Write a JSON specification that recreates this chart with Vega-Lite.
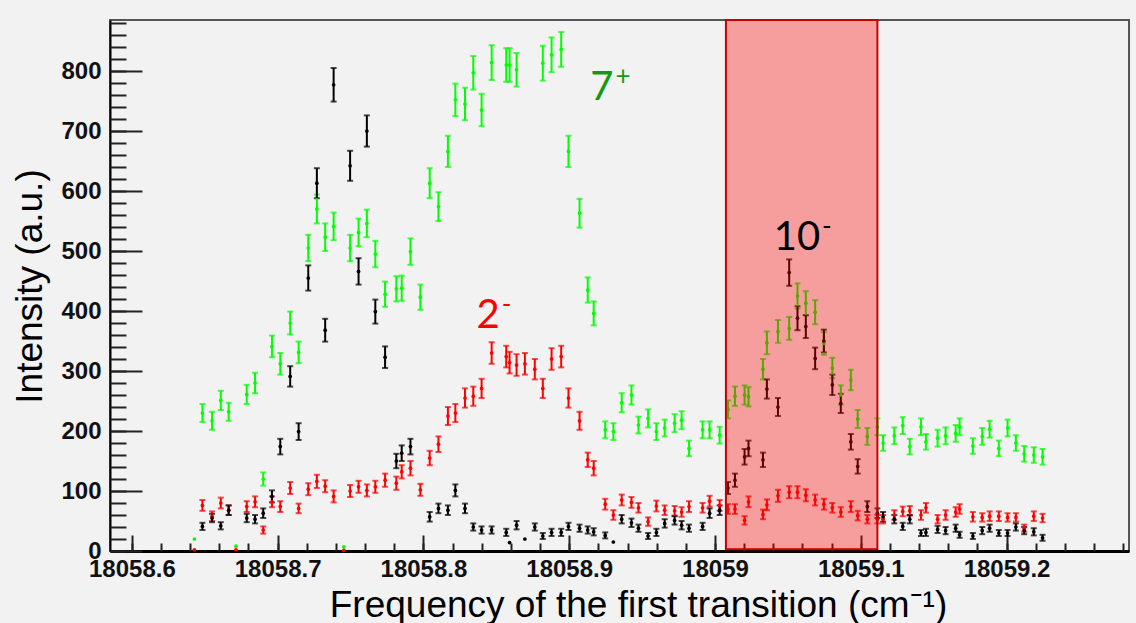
{
  "$schema": "https://vega.github.io/schema/vega-lite/v6.json",
  "width": 1019,
  "height": 531,
  "autosize": {"type": "none"},
  "padding": {"left": 110, "top": 20, "right": 7, "bottom": 72},
  "background": "#f2f2f2",
  "config": {
    "view": {"stroke": "#555555", "strokeWidth": 2},
    "font": "Liberation Sans"
  },
  "datasets": {
    "pts": [
      {"f": 18058.6429, "s": "7+", "y": 20, "e": 0},
      {"f": 18058.6484, "s": "7+", "y": 230, "e": 15},
      {"f": 18058.6550, "s": "7+", "y": 217, "e": 15},
      {"f": 18058.6610, "s": "7+", "y": 251, "e": 16},
      {"f": 18058.6664, "s": "7+", "y": 232, "e": 15},
      {"f": 18058.6714, "s": "7+", "y": 8, "e": 0},
      {"f": 18058.6788, "s": "7+", "y": 261, "e": 16},
      {"f": 18058.6845, "s": "7+", "y": 280, "e": 17},
      {"f": 18058.6901, "s": "7+", "y": 120, "e": 11},
      {"f": 18058.6961, "s": "7+", "y": 341, "e": 18},
      {"f": 18058.7018, "s": "7+", "y": 312, "e": 18},
      {"f": 18058.7086, "s": "7+", "y": 380, "e": 19},
      {"f": 18058.7144, "s": "7+", "y": 331, "e": 18},
      {"f": 18058.7210, "s": "7+", "y": 505, "e": 22},
      {"f": 18058.7269, "s": "7+", "y": 570, "e": 24},
      {"f": 18058.7326, "s": "7+", "y": 523, "e": 23},
      {"f": 18058.7384, "s": "7+", "y": 541, "e": 23},
      {"f": 18058.7454, "s": "7+", "y": 7, "e": 0},
      {"f": 18058.7497, "s": "7+", "y": 505, "e": 22},
      {"f": 18058.7555, "s": "7+", "y": 531, "e": 23},
      {"f": 18058.7612, "s": "7+", "y": 546, "e": 23},
      {"f": 18058.7670, "s": "7+", "y": 495, "e": 22},
      {"f": 18058.7737, "s": "7+", "y": 428, "e": 21},
      {"f": 18058.7814, "s": "7+", "y": 437, "e": 21},
      {"f": 18058.7851, "s": "7+", "y": 438, "e": 21},
      {"f": 18058.7911, "s": "7+", "y": 499, "e": 22},
      {"f": 18058.7979, "s": "7+", "y": 423, "e": 21},
      {"f": 18058.8043, "s": "7+", "y": 613, "e": 25},
      {"f": 18058.8103, "s": "7+", "y": 574, "e": 24},
      {"f": 18058.8168, "s": "7+", "y": 666, "e": 26},
      {"f": 18058.8219, "s": "7+", "y": 752, "e": 27},
      {"f": 18058.8285, "s": "7+", "y": 745, "e": 27},
      {"f": 18058.8342, "s": "7+", "y": 797, "e": 28},
      {"f": 18058.8399, "s": "7+", "y": 735, "e": 27},
      {"f": 18058.8468, "s": "7+", "y": 814, "e": 29},
      {"f": 18058.8568, "s": "7+", "y": 810, "e": 28},
      {"f": 18058.8591, "s": "7+", "y": 810, "e": 28},
      {"f": 18058.8639, "s": "7+", "y": 802, "e": 28},
      {"f": 18058.8819, "s": "7+", "y": 813, "e": 29},
      {"f": 18058.8879, "s": "7+", "y": 827, "e": 29},
      {"f": 18058.8945, "s": "7+", "y": 836, "e": 29},
      {"f": 18058.8995, "s": "7+", "y": 666, "e": 26},
      {"f": 18058.9071, "s": "7+", "y": 563, "e": 24},
      {"f": 18058.9127, "s": "7+", "y": 435, "e": 21},
      {"f": 18058.9168, "s": "7+", "y": 396, "e": 20},
      {"f": 18058.9247, "s": "7+", "y": 202, "e": 14},
      {"f": 18058.9303, "s": "7+", "y": 199, "e": 14},
      {"f": 18058.9360, "s": "7+", "y": 247, "e": 16},
      {"f": 18058.9427, "s": "7+", "y": 260, "e": 16},
      {"f": 18058.9475, "s": "7+", "y": 210, "e": 14},
      {"f": 18058.9541, "s": "7+", "y": 221, "e": 15},
      {"f": 18058.9598, "s": "7+", "y": 199, "e": 14},
      {"f": 18058.9655, "s": "7+", "y": 205, "e": 14},
      {"f": 18058.9723, "s": "7+", "y": 213, "e": 15},
      {"f": 18058.9771, "s": "7+", "y": 218, "e": 15},
      {"f": 18058.9822, "s": "7+", "y": 171, "e": 13},
      {"f": 18058.9915, "s": "7+", "y": 202, "e": 14},
      {"f": 18058.9963, "s": "7+", "y": 202, "e": 14},
      {"f": 18059.0032, "s": "7+", "y": 193, "e": 14},
      {"f": 18059.0089, "s": "7+", "y": 236, "e": 15},
      {"f": 18059.0137, "s": "7+", "y": 258, "e": 16},
      {"f": 18059.0203, "s": "7+", "y": 260, "e": 16},
      {"f": 18059.0230, "s": "7+", "y": 257, "e": 16},
      {"f": 18059.0329, "s": "7+", "y": 303, "e": 17},
      {"f": 18059.0356, "s": "7+", "y": 347, "e": 19},
      {"f": 18059.0432, "s": "7+", "y": 366, "e": 19},
      {"f": 18059.0509, "s": "7+", "y": 371, "e": 19},
      {"f": 18059.0566, "s": "7+", "y": 425, "e": 21},
      {"f": 18059.0623, "s": "7+", "y": 413, "e": 20},
      {"f": 18059.0687, "s": "7+", "y": 398, "e": 20},
      {"f": 18059.0747, "s": "7+", "y": 346, "e": 19},
      {"f": 18059.0805, "s": "7+", "y": 305, "e": 17},
      {"f": 18059.0863, "s": "7+", "y": 260, "e": 16},
      {"f": 18059.0932, "s": "7+", "y": 285, "e": 17},
      {"f": 18059.0979, "s": "7+", "y": 220, "e": 15},
      {"f": 18059.1045, "s": "7+", "y": 191, "e": 14},
      {"f": 18059.1114, "s": "7+", "y": 207, "e": 14},
      {"f": 18059.1153, "s": "7+", "y": 180, "e": 13},
      {"f": 18059.1230, "s": "7+", "y": 192, "e": 14},
      {"f": 18059.1288, "s": "7+", "y": 209, "e": 14},
      {"f": 18059.1336, "s": "7+", "y": 174, "e": 13},
      {"f": 18059.1413, "s": "7+", "y": 207, "e": 14},
      {"f": 18059.1447, "s": "7+", "y": 182, "e": 13},
      {"f": 18059.1527, "s": "7+", "y": 188, "e": 14},
      {"f": 18059.1582, "s": "7+", "y": 192, "e": 14},
      {"f": 18059.1651, "s": "7+", "y": 196, "e": 14},
      {"f": 18059.1678, "s": "7+", "y": 207, "e": 14},
      {"f": 18059.1769, "s": "7+", "y": 175, "e": 13},
      {"f": 18059.1833, "s": "7+", "y": 191, "e": 14},
      {"f": 18059.1884, "s": "7+", "y": 203, "e": 14},
      {"f": 18059.1947, "s": "7+", "y": 171, "e": 13},
      {"f": 18059.2007, "s": "7+", "y": 205, "e": 14},
      {"f": 18059.2064, "s": "7+", "y": 180, "e": 13},
      {"f": 18059.2121, "s": "7+", "y": 162, "e": 13},
      {"f": 18059.2187, "s": "7+", "y": 160, "e": 13},
      {"f": 18059.2247, "s": "7+", "y": 157, "e": 13},

      {"f": 18058.6429, "s": "2-", "y": 2, "e": 0},
      {"f": 18058.6484, "s": "2-", "y": 76, "e": 9},
      {"f": 18058.6550, "s": "2-", "y": 58, "e": 8},
      {"f": 18058.6610, "s": "2-", "y": 80, "e": 9},
      {"f": 18058.6664, "s": "2-", "y": 68, "e": 8},
      {"f": 18058.6714, "s": "2-", "y": 2, "e": 0},
      {"f": 18058.6788, "s": "2-", "y": 74, "e": 9},
      {"f": 18058.6845, "s": "2-", "y": 82, "e": 9},
      {"f": 18058.6901, "s": "2-", "y": 35, "e": 6},
      {"f": 18058.6961, "s": "2-", "y": 82, "e": 9},
      {"f": 18058.7018, "s": "2-", "y": 74, "e": 9},
      {"f": 18058.7086, "s": "2-", "y": 105, "e": 10},
      {"f": 18058.7144, "s": "2-", "y": 71, "e": 8},
      {"f": 18058.7210, "s": "2-", "y": 103, "e": 10},
      {"f": 18058.7269, "s": "2-", "y": 116, "e": 11},
      {"f": 18058.7326, "s": "2-", "y": 108, "e": 10},
      {"f": 18058.7384, "s": "2-", "y": 91, "e": 10},
      {"f": 18058.7454, "s": "2-", "y": 1, "e": 0},
      {"f": 18058.7497, "s": "2-", "y": 100, "e": 10},
      {"f": 18058.7555, "s": "2-", "y": 107, "e": 10},
      {"f": 18058.7612, "s": "2-", "y": 101, "e": 10},
      {"f": 18058.7670, "s": "2-", "y": 107, "e": 10},
      {"f": 18058.7737, "s": "2-", "y": 118, "e": 11},
      {"f": 18058.7814, "s": "2-", "y": 113, "e": 11},
      {"f": 18058.7851, "s": "2-", "y": 132, "e": 11},
      {"f": 18058.7911, "s": "2-", "y": 138, "e": 12},
      {"f": 18058.7979, "s": "2-", "y": 102, "e": 10},
      {"f": 18058.8043, "s": "2-", "y": 155, "e": 12},
      {"f": 18058.8103, "s": "2-", "y": 178, "e": 13},
      {"f": 18058.8168, "s": "2-", "y": 225, "e": 15},
      {"f": 18058.8219, "s": "2-", "y": 230, "e": 15},
      {"f": 18058.8285, "s": "2-", "y": 255, "e": 16},
      {"f": 18058.8342, "s": "2-", "y": 258, "e": 16},
      {"f": 18058.8399, "s": "2-", "y": 271, "e": 16},
      {"f": 18058.8468, "s": "2-", "y": 330, "e": 18},
      {"f": 18058.8568, "s": "2-", "y": 324, "e": 18},
      {"f": 18058.8591, "s": "2-", "y": 314, "e": 18},
      {"f": 18058.8639, "s": "2-", "y": 310, "e": 18},
      {"f": 18058.8696, "s": "2-", "y": 312, "e": 18},
      {"f": 18058.8764, "s": "2-", "y": 303, "e": 17},
      {"f": 18058.8819, "s": "2-", "y": 271, "e": 16},
      {"f": 18058.8879, "s": "2-", "y": 320, "e": 18},
      {"f": 18058.8945, "s": "2-", "y": 324, "e": 18},
      {"f": 18058.8995, "s": "2-", "y": 255, "e": 16},
      {"f": 18058.9071, "s": "2-", "y": 217, "e": 15},
      {"f": 18058.9127, "s": "2-", "y": 152, "e": 12},
      {"f": 18058.9168, "s": "2-", "y": 138, "e": 12},
      {"f": 18058.9247, "s": "2-", "y": 78, "e": 9},
      {"f": 18058.9303, "s": "2-", "y": 60, "e": 8},
      {"f": 18058.9360, "s": "2-", "y": 85, "e": 9},
      {"f": 18058.9427, "s": "2-", "y": 81, "e": 9},
      {"f": 18058.9475, "s": "2-", "y": 72, "e": 8},
      {"f": 18058.9541, "s": "2-", "y": 49, "e": 7},
      {"f": 18058.9598, "s": "2-", "y": 75, "e": 9},
      {"f": 18058.9655, "s": "2-", "y": 68, "e": 8},
      {"f": 18058.9723, "s": "2-", "y": 67, "e": 8},
      {"f": 18058.9771, "s": "2-", "y": 65, "e": 8},
      {"f": 18058.9822, "s": "2-", "y": 74, "e": 9},
      {"f": 18058.9915, "s": "2-", "y": 72, "e": 8},
      {"f": 18058.9963, "s": "2-", "y": 83, "e": 9},
      {"f": 18059.0032, "s": "2-", "y": 76, "e": 9},
      {"f": 18059.0089, "s": "2-", "y": 70, "e": 8},
      {"f": 18059.0137, "s": "2-", "y": 70, "e": 8},
      {"f": 18059.0203, "s": "2-", "y": 51, "e": 7},
      {"f": 18059.0230, "s": "2-", "y": 82, "e": 9},
      {"f": 18059.0329, "s": "2-", "y": 61, "e": 8},
      {"f": 18059.0356, "s": "2-", "y": 77, "e": 9},
      {"f": 18059.0432, "s": "2-", "y": 92, "e": 10},
      {"f": 18059.0509, "s": "2-", "y": 98, "e": 10},
      {"f": 18059.0566, "s": "2-", "y": 98, "e": 10},
      {"f": 18059.0623, "s": "2-", "y": 93, "e": 10},
      {"f": 18059.0687, "s": "2-", "y": 85, "e": 9},
      {"f": 18059.0747, "s": "2-", "y": 78, "e": 9},
      {"f": 18059.0805, "s": "2-", "y": 72, "e": 8},
      {"f": 18059.0863, "s": "2-", "y": 65, "e": 8},
      {"f": 18059.0932, "s": "2-", "y": 74, "e": 9},
      {"f": 18059.0979, "s": "2-", "y": 59, "e": 8},
      {"f": 18059.1045, "s": "2-", "y": 53, "e": 7},
      {"f": 18059.1114, "s": "2-", "y": 53, "e": 7},
      {"f": 18059.1153, "s": "2-", "y": 53, "e": 7},
      {"f": 18059.1230, "s": "2-", "y": 60, "e": 8},
      {"f": 18059.1288, "s": "2-", "y": 66, "e": 8},
      {"f": 18059.1336, "s": "2-", "y": 67, "e": 8},
      {"f": 18059.1413, "s": "2-", "y": 60, "e": 8},
      {"f": 18059.1447, "s": "2-", "y": 72, "e": 8},
      {"f": 18059.1527, "s": "2-", "y": 53, "e": 7},
      {"f": 18059.1582, "s": "2-", "y": 60, "e": 8},
      {"f": 18059.1651, "s": "2-", "y": 65, "e": 8},
      {"f": 18059.1678, "s": "2-", "y": 70, "e": 8},
      {"f": 18059.1769, "s": "2-", "y": 57, "e": 8},
      {"f": 18059.1833, "s": "2-", "y": 56, "e": 7},
      {"f": 18059.1884, "s": "2-", "y": 58, "e": 8},
      {"f": 18059.1947, "s": "2-", "y": 58, "e": 8},
      {"f": 18059.2007, "s": "2-", "y": 56, "e": 7},
      {"f": 18059.2064, "s": "2-", "y": 56, "e": 7},
      {"f": 18059.2121, "s": "2-", "y": 38, "e": 6},
      {"f": 18059.2187, "s": "2-", "y": 58, "e": 8},
      {"f": 18059.2247, "s": "2-", "y": 55, "e": 7},

      {"f": 18058.6484, "s": "10-", "y": 41, "e": 6},
      {"f": 18058.6550, "s": "10-", "y": 55, "e": 7},
      {"f": 18058.6610, "s": "10-", "y": 42, "e": 6},
      {"f": 18058.6664, "s": "10-", "y": 68, "e": 8},
      {"f": 18058.6788, "s": "10-", "y": 55, "e": 7},
      {"f": 18058.6845, "s": "10-", "y": 53, "e": 7},
      {"f": 18058.6901, "s": "10-", "y": 63, "e": 8},
      {"f": 18058.6961, "s": "10-", "y": 91, "e": 10},
      {"f": 18058.7018, "s": "10-", "y": 174, "e": 13},
      {"f": 18058.7086, "s": "10-", "y": 291, "e": 17},
      {"f": 18058.7144, "s": "10-", "y": 199, "e": 14},
      {"f": 18058.7210, "s": "10-", "y": 455, "e": 21},
      {"f": 18058.7269, "s": "10-", "y": 613, "e": 25},
      {"f": 18058.7326, "s": "10-", "y": 368, "e": 19},
      {"f": 18058.7384, "s": "10-", "y": 777, "e": 28},
      {"f": 18058.7497, "s": "10-", "y": 642, "e": 25},
      {"f": 18058.7555, "s": "10-", "y": 466, "e": 22},
      {"f": 18058.7612, "s": "10-", "y": 700, "e": 26},
      {"f": 18058.7670, "s": "10-", "y": 399, "e": 20},
      {"f": 18058.7737, "s": "10-", "y": 323, "e": 18},
      {"f": 18058.7814, "s": "10-", "y": 150, "e": 12},
      {"f": 18058.7851, "s": "10-", "y": 163, "e": 13},
      {"f": 18058.7911, "s": "10-", "y": 174, "e": 13},
      {"f": 18058.8043, "s": "10-", "y": 57, "e": 8},
      {"f": 18058.8103, "s": "10-", "y": 71, "e": 8},
      {"f": 18058.8168, "s": "10-", "y": 68, "e": 8},
      {"f": 18058.8219, "s": "10-", "y": 101, "e": 10},
      {"f": 18058.8285, "s": "10-", "y": 71, "e": 8},
      {"f": 18058.8342, "s": "10-", "y": 40, "e": 6},
      {"f": 18058.8399, "s": "10-", "y": 35, "e": 6},
      {"f": 18058.8468, "s": "10-", "y": 35, "e": 6},
      {"f": 18058.8568, "s": "10-", "y": 31, "e": 6},
      {"f": 18058.8591, "s": "10-", "y": 14, "e": 0},
      {"f": 18058.8639, "s": "10-", "y": 43, "e": 7},
      {"f": 18058.8696, "s": "10-", "y": 20, "e": 0},
      {"f": 18058.8764, "s": "10-", "y": 40, "e": 6},
      {"f": 18058.8819, "s": "10-", "y": 25, "e": 5},
      {"f": 18058.8879, "s": "10-", "y": 31, "e": 6},
      {"f": 18058.8945, "s": "10-", "y": 31, "e": 6},
      {"f": 18058.8995, "s": "10-", "y": 41, "e": 6},
      {"f": 18058.9071, "s": "10-", "y": 38, "e": 6},
      {"f": 18058.9127, "s": "10-", "y": 35, "e": 6},
      {"f": 18058.9168, "s": "10-", "y": 32, "e": 6},
      {"f": 18058.9247, "s": "10-", "y": 26, "e": 5},
      {"f": 18058.9303, "s": "10-", "y": 15, "e": 0},
      {"f": 18058.9360, "s": "10-", "y": 53, "e": 7},
      {"f": 18058.9427, "s": "10-", "y": 47, "e": 7},
      {"f": 18058.9475, "s": "10-", "y": 38, "e": 6},
      {"f": 18058.9541, "s": "10-", "y": 25, "e": 5},
      {"f": 18058.9598, "s": "10-", "y": 31, "e": 6},
      {"f": 18058.9655, "s": "10-", "y": 46, "e": 7},
      {"f": 18058.9723, "s": "10-", "y": 51, "e": 7},
      {"f": 18058.9771, "s": "10-", "y": 43, "e": 7},
      {"f": 18058.9822, "s": "10-", "y": 38, "e": 6},
      {"f": 18058.9915, "s": "10-", "y": 41, "e": 6},
      {"f": 18058.9963, "s": "10-", "y": 63, "e": 8},
      {"f": 18059.0032, "s": "10-", "y": 68, "e": 8},
      {"f": 18059.0089, "s": "10-", "y": 105, "e": 10},
      {"f": 18059.0137, "s": "10-", "y": 118, "e": 11},
      {"f": 18059.0203, "s": "10-", "y": 157, "e": 13},
      {"f": 18059.0230, "s": "10-", "y": 171, "e": 13},
      {"f": 18059.0329, "s": "10-", "y": 152, "e": 12},
      {"f": 18059.0356, "s": "10-", "y": 270, "e": 16},
      {"f": 18059.0432, "s": "10-", "y": 240, "e": 15},
      {"f": 18059.0509, "s": "10-", "y": 464, "e": 22},
      {"f": 18059.0566, "s": "10-", "y": 388, "e": 20},
      {"f": 18059.0623, "s": "10-", "y": 374, "e": 19},
      {"f": 18059.0687, "s": "10-", "y": 321, "e": 18},
      {"f": 18059.0747, "s": "10-", "y": 350, "e": 19},
      {"f": 18059.0805, "s": "10-", "y": 277, "e": 17},
      {"f": 18059.0863, "s": "10-", "y": 246, "e": 16},
      {"f": 18059.0932, "s": "10-", "y": 182, "e": 13},
      {"f": 18059.0979, "s": "10-", "y": 141, "e": 12},
      {"f": 18059.1045, "s": "10-", "y": 74, "e": 9},
      {"f": 18059.1114, "s": "10-", "y": 63, "e": 8},
      {"f": 18059.1153, "s": "10-", "y": 57, "e": 8},
      {"f": 18059.1230, "s": "10-", "y": 53, "e": 7},
      {"f": 18059.1288, "s": "10-", "y": 41, "e": 6},
      {"f": 18059.1336, "s": "10-", "y": 53, "e": 7},
      {"f": 18059.1413, "s": "10-", "y": 30, "e": 5},
      {"f": 18059.1447, "s": "10-", "y": 31, "e": 6},
      {"f": 18059.1527, "s": "10-", "y": 36, "e": 6},
      {"f": 18059.1582, "s": "10-", "y": 34, "e": 6},
      {"f": 18059.1651, "s": "10-", "y": 38, "e": 6},
      {"f": 18059.1678, "s": "10-", "y": 27, "e": 5},
      {"f": 18059.1769, "s": "10-", "y": 25, "e": 5},
      {"f": 18059.1833, "s": "10-", "y": 34, "e": 6},
      {"f": 18059.1884, "s": "10-", "y": 38, "e": 6},
      {"f": 18059.1947, "s": "10-", "y": 30, "e": 5},
      {"f": 18059.2007, "s": "10-", "y": 30, "e": 5},
      {"f": 18059.2064, "s": "10-", "y": 40, "e": 6},
      {"f": 18059.2121, "s": "10-", "y": 34, "e": 6},
      {"f": 18059.2187, "s": "10-", "y": 32, "e": 6},
      {"f": 18059.2247, "s": "10-", "y": 22, "e": 5}
    ],
    "window": [
      {"f0": 18059.0075, "f1": 18059.1114, "y0": 3, "y1": 885}
    ],
    "labels": [
      {"f": 18058.9303, "y": 752, "main": "7", "sup": "+", "s": "7+"},
      {"f": 18058.8523, "y": 372, "main": "2", "sup": "-", "s": "2-"},
      {"f": 18059.0721, "y": 502, "main": "10", "sup": "-", "s": "10-"}
    ]
  },
  "resolve": {
    "scale": {"color": "independent"},
    "axis": {"x": "independent", "y": "independent"}
  },
  "layer": [
    {
      "data": {"name": "pts"},
      "transform": [{"filter": "datum.e > 0"}],
      "mark": {"type": "errorbar", "ticks": true, "size": 6, "thickness": 2},
      "encoding": {
        "x": {
          "field": "f",
          "type": "quantitative",
          "scale": {"domain": [18058.585, 18059.284], "nice": false, "zero": false},
          "axis": {
            "orient": "bottom",
            "values": [18058.6, 18058.7, 18058.8, 18058.9, 18059, 18059.1, 18059.2],
            "format": ".1~f",
            "tickSize": -16,
            "tickColor": "#222222",
            "tickWidth": 2,
            "domainColor": "#000000",
            "domainWidth": 3,
            "grid": false,
            "labelFont": "Liberation Sans",
            "labelFontWeight": "bold",
            "labelFontSize": 24,
            "labelColor": "#111111",
            "labelPadding": 22,
            "labelOverlap": false,
            "labelBound": false,
            "labelFlush": false,
            "title": "Frequency of the first transition (cm⁻¹)",
            "titleFont": "Liberation Sans",
            "titleFontSize": 37,
            "titleFontWeight": "normal",
            "titleColor": "#000000",
            "titleX": 528,
            "titleY": 65,
            "titleAlign": "center",
            "titleBaseline": "alphabetic"
          }
        },
        "y": {
          "field": "y",
          "type": "quantitative",
          "scale": {"domain": [0, 885], "nice": false},
          "axis": {
            "orient": "left",
            "values": [0, 100, 200, 300, 400, 500, 600, 700, 800],
            "tickSize": -32,
            "tickColor": "#222222",
            "tickWidth": 2,
            "domainColor": "#000000",
            "domainWidth": 2,
            "grid": false,
            "labelFont": "Liberation Sans",
            "labelFontWeight": "bold",
            "labelFontSize": 24,
            "labelColor": "#111111",
            "labelPadding": 41,
            "labelOverlap": false,
            "labelBound": false,
            "labelFlush": false,
            "title": "Intensity (a.u.)",
            "titleFont": "Liberation Sans",
            "titleFontSize": 37,
            "titleFontWeight": "normal",
            "titleColor": "#000000",
            "titleX": -69,
            "titleY": 266,
            "titleAngle": 270,
            "titleAlign": "center",
            "titleBaseline": "alphabetic"
          }
        },
        "yError": {"field": "e"},
        "color": {
          "field": "s",
          "type": "nominal",
          "scale": {"domain": ["7+", "2-", "10-"], "range": ["#00ff00", "#ff0000", "#000000"]},
          "legend": null
        }
      }
    },
    {
      "data": {"name": "pts"},
      "mark": {"type": "point", "filled": true, "size": 14, "opacity": 1},
      "encoding": {
        "x": {
          "field": "f",
          "type": "quantitative",
          "axis": {
            "orient": "bottom",
            "values": [18058.6, 18058.62, 18058.64, 18058.66, 18058.68, 18058.7, 18058.72, 18058.74, 18058.76, 18058.78, 18058.8, 18058.82, 18058.84, 18058.86, 18058.88, 18058.9, 18058.92, 18058.94, 18058.96, 18058.98, 18059, 18059.02, 18059.04, 18059.06, 18059.08, 18059.1, 18059.12, 18059.14, 18059.16, 18059.18, 18059.2, 18059.22, 18059.24, 18059.26, 18059.28],
            "tickSize": -8,
            "tickColor": "#222222",
            "tickWidth": 2,
            "domain": false,
            "labels": false,
            "grid": false,
            "title": null
          }
        },
        "y": {
          "field": "y",
          "type": "quantitative",
          "axis": {
            "orient": "left",
            "values": [0, 20, 40, 60, 80, 100, 120, 140, 160, 180, 200, 220, 240, 260, 280, 300, 320, 340, 360, 380, 400, 420, 440, 460, 480, 500, 520, 540, 560, 580, 600, 620, 640, 660, 680, 700, 720, 740, 760, 780, 800, 820, 840, 860, 880],
            "tickSize": -16,
            "tickColor": "#222222",
            "tickWidth": 2,
            "domain": false,
            "labels": false,
            "grid": false,
            "title": null
          }
        },
        "color": {
          "field": "s",
          "type": "nominal",
          "scale": {"domain": ["7+", "2-", "10-"], "range": ["#00ff00", "#ff0000", "#000000"]},
          "legend": null
        }
      }
    },
    {
      "data": {"name": "window"},
      "mark": {"type": "rect", "fill": "#ff0000", "fillOpacity": 0.35, "stroke": "#c80000", "strokeWidth": 2},
      "encoding": {
        "x": {"field": "f0", "type": "quantitative", "axis": null},
        "x2": {"field": "f1"},
        "y": {"field": "y0", "type": "quantitative", "axis": null},
        "y2": {"field": "y1"}
      }
    },
    {
      "data": {"name": "labels"},
      "mark": {"type": "text", "align": "right", "baseline": "alphabetic", "font": "Lato", "fontSize": 40},
      "encoding": {
        "x": {"field": "f", "type": "quantitative", "axis": null},
        "y": {"field": "y", "type": "quantitative", "axis": null},
        "text": {"field": "main"},
        "color": {
          "field": "s",
          "type": "nominal",
          "scale": {"domain": ["7+", "2-", "10-"], "range": ["#119a11", "#ff0000", "#000000"]},
          "legend": null
        }
      }
    },
    {
      "data": {"name": "labels"},
      "mark": {"type": "text", "align": "left", "baseline": "alphabetic", "font": "Lato", "fontSize": 26, "dx": 2, "dy": -15},
      "encoding": {
        "x": {"field": "f", "type": "quantitative", "axis": null},
        "y": {"field": "y", "type": "quantitative", "axis": null},
        "text": {"field": "sup"},
        "color": {
          "field": "s",
          "type": "nominal",
          "scale": {"domain": ["7+", "2-", "10-"], "range": ["#119a11", "#ff0000", "#000000"]},
          "legend": null
        }
      }
    }
  ]
}
